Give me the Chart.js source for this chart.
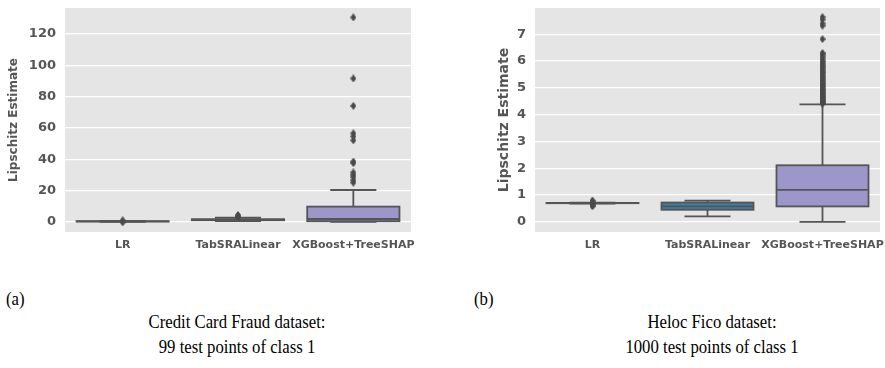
<!DOCTYPE html>
<html>
<head>
<meta charset="utf-8">
<script src="https://cdn.jsdelivr.net/npm/chart.js@4.4.1/dist/chart.umd.min.js"></script>
<style>
    body { margin: 0; background: #fff; width: 885px; height: 368px; position: relative; overflow: hidden; }
    .panel { position: absolute; top: 0; height: 270px; }
    .cap { position: absolute; font-family: "Liberation Serif", serif; font-size: 19px; color: #000; white-space: nowrap; }
    .left { transform: scaleX(0.88); transform-origin: left top; }
    .center { transform: translateX(-50%) scaleX(0.88); text-align: center; line-height: 25px; }
</style>
</head>
<body>
<div class="panel" style="left:0; width:440px;"><canvas id="chartA"></canvas></div>
<div class="panel" style="left:440px; width:445px;"><canvas id="chartB"></canvas></div>

<div class="cap left" style="left:6px; top:288px;">(a)</div>
<div class="cap center" style="left:237px; top:309px;">Credit Card Fraud dataset:<br>99 test points of class 1</div>
<div class="cap left" style="left:474px; top:288px;">(b)</div>
<div class="cap center" style="left:712px; top:309px;">Heloc Fico dataset:<br>1000 test points of class 1</div>

<script>
const categories = ['LR', 'TabSRALinear', 'XGBoost+TreeSHAP'];
const boxColors = ['#c4706b', '#3b7fa6', '#9c96ca'];

// (a) credit card fraud: [whisker low, q1, median, q3, whisker high]
const fraudStats = [
    [0.05, 0.2, 0.3, 0.4, 0.6],
    [0.4, 1.0, 1.3, 1.7, 2.6],
    [0.0, 0.4, 1.8, 9.7, 20.3]
];
const fraudOutliers = [
    [1.0, -0.4],
    [3.0, 3.4, 3.9, 4.4],
    [25, 26.5, 28.5, 30, 31.5, 37.5, 38.5, 52, 54.5, 56.5, 74, 91.5, 130.5]
];
const fraudTicks = [0, 20, 40, 60, 80, 100, 120];

// (b) heloc fico
const helocStats = [
    [0.68, 0.695, 0.70, 0.705, 0.72],
    [0.2, 0.45, 0.58, 0.72, 0.79],
    [0.0, 0.575, 1.19, 2.11, 4.38]
];
const helocOutliers = [
    [0.58, 0.61, 0.64, 0.76, 0.79],
    [],
    [4.41, 4.44, 4.48, 4.52, 4.55, 4.6, 4.63, 4.67, 4.71, 4.76, 4.8, 4.84, 4.89, 4.93, 4.98,
     5.02, 5.07, 5.12, 5.16, 5.21, 5.27, 5.32, 5.38, 5.43, 5.49, 5.55, 5.6, 5.66, 5.72, 5.78,
     5.84, 5.9, 5.96, 6.02, 6.1, 6.18, 6.25, 6.3, 6.82, 7.32, 7.4, 7.55, 7.64]
];
const helocTicks = [0, 1, 2, 3, 4, 5, 6, 7];

const lineColor = '#555555';
const textColor = '#555555';

// thin diamond marker like seaborn fliers
const diamond = document.createElement('canvas');
diamond.width = 6; diamond.height = 8;
(function () {
    const c = diamond.getContext('2d');
    c.fillStyle = '#4a4a4a';
    c.beginPath();
    c.moveTo(3, 0); c.lineTo(6, 4); c.lineTo(3, 8); c.lineTo(0, 4);
    c.closePath();
    c.fill();
})();

const boxPlugin = {
    id: 'boxes',
    beforeDraw(chart) {
        const a = chart.chartArea;
        const ctx = chart.ctx;
        ctx.save();
        ctx.fillStyle = '#e5e5e5';
        ctx.fillRect(a.left, a.top, a.right - a.left, a.bottom - a.top);
        ctx.restore();
    },
    beforeDatasetsDraw(chart, args, opts) {
        const ctx = chart.ctx;
        const x = chart.scales.x, y = chart.scales.y;
        ctx.save();
        ctx.strokeStyle = lineColor;
        ctx.lineWidth = 1.8;
        opts.stats.forEach((s, i) => {
            const cx = x.getPixelForValue(i);
            const half = x.getPixelForValue(i + 0.4) - cx;
            const lo = y.getPixelForValue(s[0]), q1 = y.getPixelForValue(s[1]),
                  md = y.getPixelForValue(s[2]), q3 = y.getPixelForValue(s[3]),
                  hi = y.getPixelForValue(s[4]);
            ctx.beginPath();
            ctx.moveTo(cx, q1); ctx.lineTo(cx, lo);
            ctx.moveTo(cx - half / 2, lo); ctx.lineTo(cx + half / 2, lo);
            ctx.moveTo(cx, q3); ctx.lineTo(cx, hi);
            ctx.moveTo(cx - half / 2, hi); ctx.lineTo(cx + half / 2, hi);
            ctx.stroke();
            ctx.fillStyle = boxColors[i];
            ctx.fillRect(cx - half, q3, half * 2, q1 - q3);
            ctx.strokeRect(cx - half, q3, half * 2, q1 - q3);
            ctx.beginPath();
            ctx.moveTo(cx - half, md); ctx.lineTo(cx + half, md);
            ctx.stroke();
        });
        ctx.restore();
    }
};

function makeChart(id, stats, outliers, ticks, yMin, yMax, pad, yWidth, titleSize) {
    const datasets = outliers.map((vals, i) => ({
        data: vals.map(v => ({ x: i, y: v })),
        pointStyle: diamond,
        pointRadius: 4,
        pointHoverRadius: 4
    }));
    return new Chart(document.getElementById(id), {
        type: 'scatter',
        data: { datasets: datasets },
        plugins: [boxPlugin],
        options: {
            responsive: false,
            animation: false,
            events: [],
            layout: { padding: pad },
            plugins: {
                legend: { display: false },
                tooltip: { enabled: false },
                boxes: { stats: stats }
            },
            scales: {
                x: {
                    type: 'linear',
                    min: -0.5,
                    max: 2.5,
                    afterBuildTicks: s => { s.ticks = [0, 1, 2].map(v => ({ value: v })); },
                    afterFit: s => { s.height = 38; s.paddingLeft = 0; s.paddingRight = 0; },
                    grid: { display: false, drawTicks: false },
                    border: { display: false },
                    ticks: {
                        callback: v => categories[v],
                        color: textColor,
                        padding: 7,
                        maxRotation: 0,
                        font: { family: 'DejaVu Sans', weight: 'bold', size: 11 }
                    }
                },
                y: {
                    min: yMin,
                    max: yMax,
                    afterBuildTicks: s => { s.ticks = ticks.map(v => ({ value: v })); },
                    afterFit: s => { s.width = yWidth; s.paddingTop = 0; s.paddingBottom = 0; },
                    grid: { color: '#ffffff', lineWidth: 1.3, drawTicks: false },
                    border: { display: false },
                    title: {
                        display: true,
                        text: 'Lipschitz Estimate',
                        color: textColor,
                        padding: 0,
                        font: { family: 'DejaVu Sans', weight: 'bold', size: titleSize }
                    },
                    ticks: {
                        color: textColor,
                        padding: 9,
                        font: { family: 'DejaVu Sans', weight: 'bold', size: 13 }
                    }
                }
            }
        }
    });
}

const cA = document.getElementById('chartA');
cA.width = 440; cA.height = 270;
const cB = document.getElementById('chartB');
cB.width = 445; cB.height = 270;

makeChart('chartA', fraudStats, fraudOutliers, fraudTicks, -6.5, 136.5,
    { top: 8, right: 29, left: 7, bottom: 0 }, 58, 12);
makeChart('chartB', helocStats, helocOutliers, helocTicks, -0.38, 7.98,
    { top: 8, right: 3, left: 56, bottom: 0 }, 39, 14);
</script>
</body>
</html>
